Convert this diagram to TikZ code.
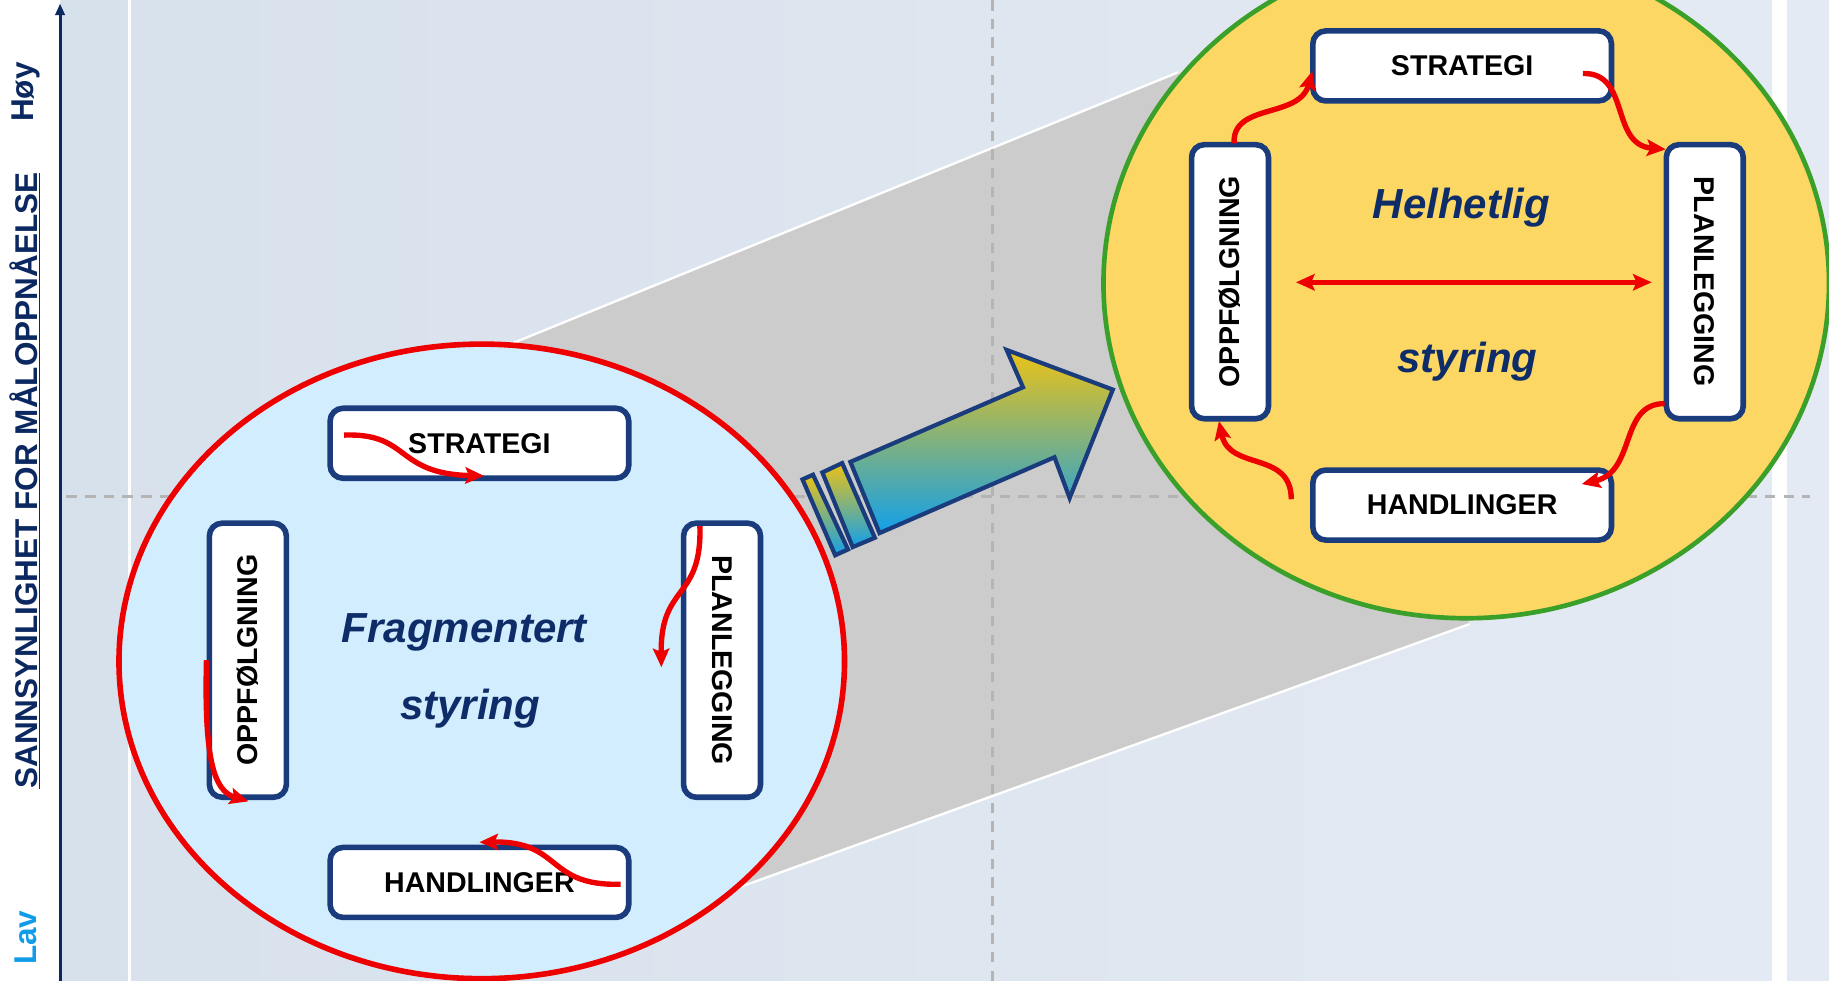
\documentclass[tikz,border=0pt]{standalone}
\usepackage{fontspec}
\setmainfont{Liberation Sans}
\usetikzlibrary{arrows.meta,shapes.geometric}
\definecolor{navy}{RGB}{26,60,124}
\definecolor{txtnavy}{RGB}{14,44,104}
\definecolor{axisnavy}{RGB}{12,40,96}
\definecolor{lavblue}{RGB}{16,156,232}
\definecolor{redc}{RGB}{238,0,0}
\definecolor{bgL}{RGB}{215,225,236}
\definecolor{bgR}{RGB}{228,234,243}
\definecolor{grayproj}{RGB}{204,204,204}
\definecolor{dashgray}{RGB}{180,180,180}
\definecolor{lightblue}{RGB}{210,237,253}
\definecolor{yellowc}{RGB}{253,215,100}
\definecolor{greenc}{RGB}{58,160,42}
\definecolor{arrY}{RGB}{236,194,22}
\definecolor{arrB}{RGB}{18,160,234}
\tikzset{
  boxh/.style={draw=navy, line width=4.8pt, fill=white, rounded corners=11pt,
    minimum width=256pt, minimum height=60pt, inner sep=0pt,
    font=\fontsize{24.5}{28}\selectfont\bfseries, text=black},
  boxv/.style={boxh, minimum width=235pt, minimum height=66pt},
  ital/.style={font=\fontsize{36}{40}\selectfont\bfseries\itshape, text=txtnavy, anchor=base, inner sep=0pt},
  redarrow/.style={draw=redc, line width=4.6pt, -{Stealth[length=16pt,width=14pt,inset=3pt]}},
  gridline/.style={draw=dashgray, line width=2.6pt, dash pattern=on 9pt off 7pt},
  arrowpart/.style={draw=navy, line width=3.6pt, line join=miter, top color=arrY, bottom color=arrB},
  axislabel/.style={rotate=90, inner sep=0pt, font=\fontsize{27}{30}\selectfont\bfseries}
}
\begin{document}
\begin{tikzpicture}[x=1pt,y=-1pt]
\useasboundingbox (0,0) rectangle (1568,841);
\clip (0,0) rectangle (1568,841);
% background
\fill[white] (0,0) rectangle (1568,841);
\fill[left color=bgL, right color=bgR] (52,0) rectangle (1519,841);
\fill[white] (110,0) rectangle (112.6,841);
\fill[bgR] (1532,0) rectangle (1568,841);
% projection
\fill[grayproj] (440,294) -- (1010,62) -- (1260,535) -- (630,762) -- cycle;
\draw[white, line width=2pt] (440,294) -- (1010,62);
\draw[white, line width=2pt] (630,762) -- (1260,535);
% grid lines
\draw[gridline] (851,0) -- (851,841);
\draw[gridline] (57,426) -- (1552,426);
% axis
\coordinate (axbot) at (51.5,845);
\coordinate (axtop) at (51.5,3);
\draw[axisnavy, line width=2.6pt, -{Triangle[length=10pt,width=8pt]}] (axbot) -- (axtop);
\node[axislabel, text=axisnavy] (hoy) at (22,79) {Høy};
\node[axislabel, text=axisnavy] (ylab) at (21,412) {\underline{SANNSYNLIGHET FOR MÅLOPPNÅELSE}};
\node[axislabel, text=lavblue] (lav) at (22,804) {Lav};
% ellipses
\node[ellipse, draw=redc, line width=4.8pt, fill=lightblue, minimum width=622pt, minimum height=544pt, inner sep=0pt] (small) at (413,567) {};
\node[ellipse, draw=greenc, line width=4pt, fill=yellowc, minimum width=622pt, minimum height=574pt, inner sep=0pt] (big) at (1257,243) {};
% big arrow
\draw[arrowpart] (688,411) -- (697,407) -- (727,471) -- (716,476) -- cycle;
\draw[arrowpart] (705,405) -- (722,397) -- (750,461) -- (731,469) -- cycle;
\draw[arrowpart] (754,457) -- (729,396) -- (877,332) -- (863,300) -- (954,334) -- (917,427) -- (904,392) -- cycle;
% small diagram boxes
\node[boxh] (sS) at (411,380) {STRATEGI};
\node[boxh] (sH) at (411,756.5) {HANDLINGER};
\node[boxv, rotate=90] (sO) at (212.5,566) {OPPFØLGNING};
\node[boxv, rotate=-90] (sP) at (619,566) {PLANLEGGING};
\node[ital] (frag) at (398,551) {Fragmentert};
\node[ital] (sty1) at (403,617) {styring};
% big diagram boxes
\node[boxh] (bS) at (1253.5,56.5) {STRATEGI};
\node[boxh] (bH) at (1253.5,433) {HANDLINGER};
\node[boxv, rotate=90] (bO) at (1054.5,241.5) {OPPFØLGNING};
\node[boxv, rotate=-90] (bP) at (1461.5,241.5) {PLANLEGGING};
\node[ital] (helh) at (1253,187) {Helhetlig};
\node[ital] (sty2) at (1258,319) {styring};
% small red arrows
\coordinate (s1a) at (295,373); \coordinate (s1b) at (415,408);
\draw[redarrow] (s1a) .. controls (352,371) and (338,406) .. (s1b);
\coordinate (s2a) at (600,451); \coordinate (s2b) at (567,572);
\draw[redarrow] (s2a) .. controls (602,515) and (566,500) .. (s2b);
\coordinate (s3a) at (532,758); \coordinate (s3b) at (411,722);
\draw[redarrow] (s3a) .. controls (468,760) and (482,721) .. (s3b);
\coordinate (s4a) at (177,566); \coordinate (s4b) at (213,687);
\draw[redarrow] (s4a) .. controls (175,650) and (183,678) .. (s4b);
% big red arrows
\coordinate (b1a) at (1058,123); \coordinate (b1b) at (1125,61);
\draw[redarrow] (b1a) .. controls (1056,88) and (1114,102) .. (b1b);
\coordinate (b2a) at (1357,63); \coordinate (b2b) at (1428,128);
\draw[redarrow] (b2a) .. controls (1398,62) and (1380,124) .. (b2b);
\coordinate (b3a) at (1427,346); \coordinate (b3b) at (1356,415);
\draw[redarrow] (b3a) .. controls (1388,346) and (1403,404) .. (b3b);
\coordinate (b4a) at (1107,428); \coordinate (b4b) at (1045,361);
\draw[redarrow] (b4a) .. controls (1107,386) and (1054,404) .. (b4b);
\coordinate (dla) at (1111,242); \coordinate (dlb) at (1416,242);
\draw[draw=redc, line width=4.6pt, {Stealth[length=16pt,width=14pt,inset=3pt]}-{Stealth[length=16pt,width=14pt,inset=3pt]}] (dla) -- (dlb);
\end{tikzpicture}
\end{document}
